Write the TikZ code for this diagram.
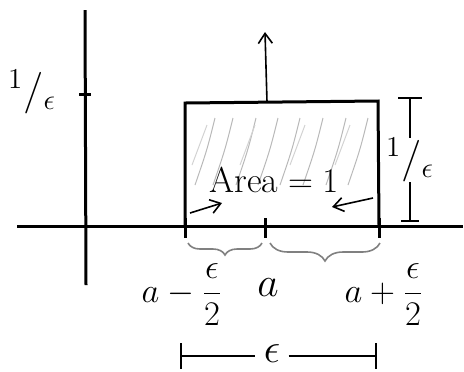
\documentclass[tikz,border=0pt]{standalone}
\usepackage{amsmath}
\usetikzlibrary{arrows.meta,positioning,calc,decorations.pathreplacing}

\newcommand{\halfeps}{\ensuremath{\dfrac{\epsilon}{2}}}

\begin{document}
\begin{tikzpicture}[x=0.5pt,y=-0.5pt,>={Straight Barb[length=5pt,width=7pt]},
    axis/.style={line width=1.5pt},
    thin line/.style={line width=0.8pt},
    hatch/.style={gray!55,line width=0.5pt},
    brc/.style={gray,line width=0.8pt,decorate,
      decoration={brace,mirror,amplitude=6pt}},
    lbl/.style={font=\fontsize{20}{22}\selectfont,inner sep=0pt},
    tick lbl/.style={font=\fontsize{16}{18}\selectfont,inner sep=0pt},
    dimbar/.style={line width=1pt}]
  \useasboundingbox (0,0) rectangle (464,371);

  % Axes.
  \coordinate (xl) at (17,226);
  \coordinate (xr) at (463,226);
  \coordinate (yt) at (85,10);
  \coordinate (yb) at (86,285);
  \draw[axis] (xl) -- (xr);
  \draw[axis] (yt) -- (yb);

  % Height mark on the vertical axis.
  \coordinate (hmark) at (85,94);
  \draw[axis] ($(hmark)+(-6,0)$) -- ($(hmark)+(6,0)$);
  \node[lbl] (ylab) at (32,92) {$^1/_\epsilon$};

  % The box.
  \coordinate (lo) at (185,226);
  \coordinate (mid) at (265,226);
  \coordinate (hi) at (379,226);
  \coordinate (tl) at (185,103);
  \coordinate (tr) at (378,101);
  \draw[axis] (lo) -- (tl) -- (tr) -- (hi);

  % Shading inside the box.
  \foreach \x in {195,213,236,258,280,303,326,348}{
    \draw[hatch] (\x,185) .. controls (\x+12,150) .. (\x+20,118);
  }
  \foreach \x in {192,240,290,335}{
    \draw[hatch,gray!35] (\x,165) -- (\x+15,125);
  }

  % Ticks on the horizontal axis.
  \foreach \p in {lo,mid,hi}{
    \draw[axis] ($(\p)+(0,-8)$) -- ($(\p)+(0,12)$);
  }

  % Spike going up.
  \coordinate (peak) at (267,102);
  \coordinate (sky) at (265,32);
  \draw[thin line,->] (peak) -- (sky);

  \node[font=\fontsize{18}{20}\selectfont] (area) at (274,180) {Area${}=1$};
  \coordinate (al) at (190,213);
  \coordinate (ar) at (373,198);
  \draw[thin line,->] (al) -- (222,203);
  \draw[thin line,->] (ar) -- (332,207);

  % Braces under the axis.
  \draw[brc] (188,243) -- (262,243);
  \draw[brc,decoration={amplitude=9pt}] (270,243) -- (380,243);

  % Labels under the axis.
  \node[tick lbl] (alo) at (182,295) {$a-\halfeps$};
  \node[lbl] (amid) at (268,288) {$a$};
  \node[tick lbl] (ahi) at (384,295) {$a+\halfeps$};

  % Height of the box.
  \node[lbl] (hlab) at (410,160) {$^1/_\epsilon$};
  \coordinate (htop) at (410,97);
  \coordinate (hbot) at (410,222);
  \draw[dimbar,{Bar[width=12pt]}-] (htop) -- (hlab.north);
  \draw[dimbar,-{Bar[width=9pt]}] (hlab.south) -- (hbot);

  % Width of the box.
  \node[lbl] (eps) at (272,354) {$\epsilon$};
  \coordinate (el) at (180,356);
  \coordinate (er) at (377,356);
  \draw[dimbar,{Bar[width=13pt]}-] (el) -- ([xshift=-4pt]eps.west |- el);
  \draw[dimbar,-{Bar[width=13pt]}] ([xshift=4pt]eps.east |- er) -- (er);
\end{tikzpicture}
\end{document}
